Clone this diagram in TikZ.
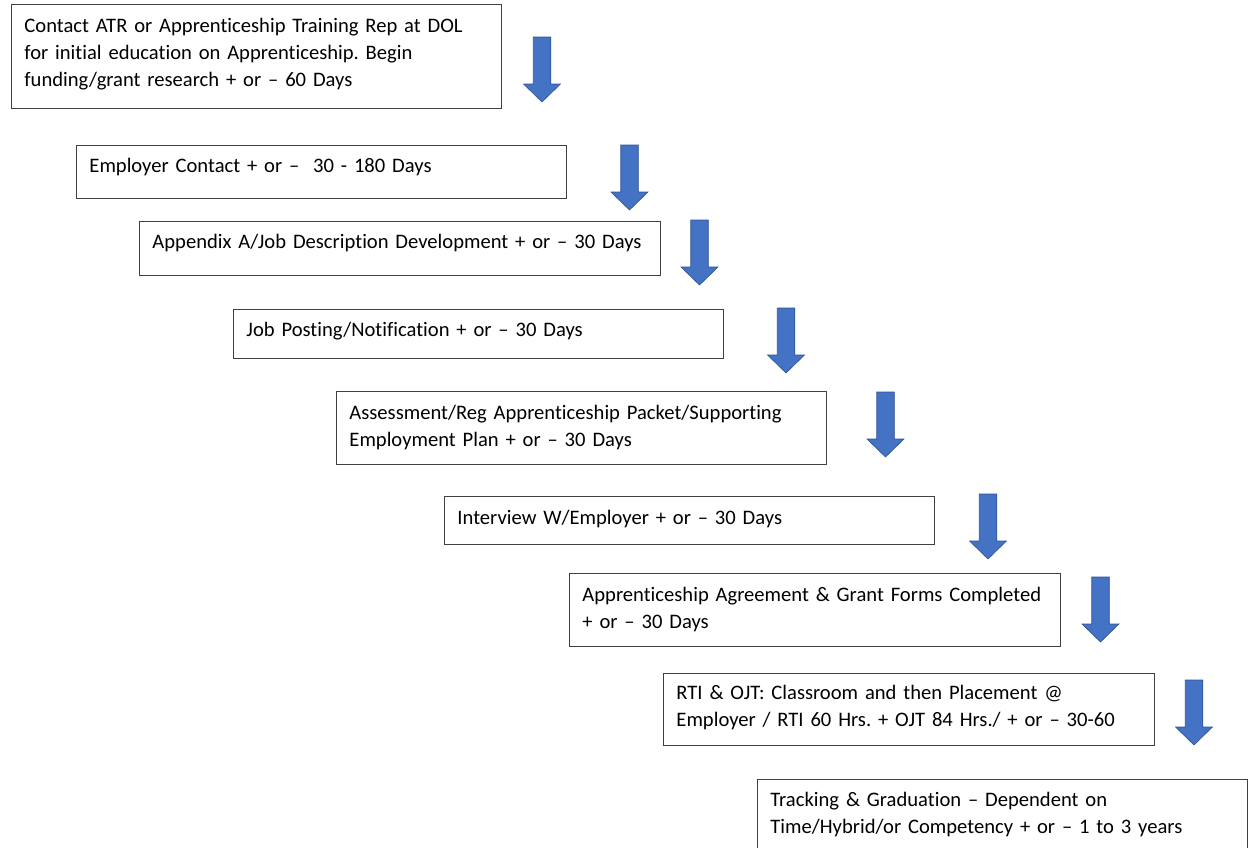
\documentclass[tikz,border=0pt]{standalone}
\usepackage{fontspec}
\setmainfont{Carlito}[Ligatures=NoCommon]

\definecolor{arrowblue}{HTML}{4472C4}
\definecolor{arrowedge}{HTML}{2F528F}
\definecolor{boxline}{HTML}{404040}

\newcommand{\stepfont}{\fontsize{20.6}{27}\selectfont\frenchspacing\hyphenpenalty=10000\relax}

\tikzset{
    stepbox/.style 2 args={draw=boxline, line width=0.9pt, anchor=north west,
        align=left, inner xsep=13pt, inner ysep=0pt,
        text width=#1, text height=28pt, text depth=#2, font=\stepfont},
    downarrow/.pic={
        \draw[fill=arrowblue, draw=arrowedge, line width=0.6pt]
            (-8.75,0) -- (8.75,0) -- (8.75,47) -- (18.5,47) -- (0,65)
            -- (-18.5,47) -- (-8.75,47) -- cycle;
    }
}

\begin{document}
\begin{tikzpicture}[x=1pt, y=-1pt]
        \useasboundingbox (0,0) rectangle (1248,847);

        \node[stepbox={464pt}{76pt}] (contact) at (11,4) {Contact ATR or Apprenticeship Training Rep at DOL\\for initial education on Apprenticeship. Begin\\funding/grant research + or – 60 Days};
        \node[stepbox={464pt}{26pt}, text height=27pt] (employer) at (76,145) {Employer Contact + or –\ \ 30 - 180 Days};
        \node[stepbox={495pt}{27pt}, text height=27pt] (appendix) at (139,221) {Appendix A/Job Description Development + or – 30 Days};
        \node[stepbox={464pt}{22pt}, text height=27pt] (posting) at (233,309) {Job Posting/Notification + or – 30 Days};
        \node[stepbox={464pt}{45pt}] (assessment) at (336,391) {Assessment/Reg Apprenticeship Packet/Supporting\\Employment Plan + or – 30 Days};
        \node[stepbox={464pt}{20pt}] (interview) at (444,496) {Interview W/Employer + or – 30 Days};
        \node[stepbox={465pt}{45pt}] (agreement) at (569,573) {Apprenticeship Agreement \& Grant Forms Completed\\+ or – 30 Days};
        \node[stepbox={465pt}{46pt}, text height=26pt] (rti) at (663,673) {RTI \& OJT: Classroom and then Placement @\\Employer / RTI 60 Hrs. + OJT 84 Hrs./ + or – 30-60};
        \node[stepbox={464pt}{48pt}, text height=27pt] (tracking) at (757,779) {Tracking \& Graduation – Dependent on\\Time/Hybrid/or Competency + or – 1 to 3 years};

        \pic at (542,37) {downarrow};
        \pic at (629.5,145) {downarrow};
        \pic at (699.5,220) {downarrow};
        \pic at (786,308) {downarrow};
        \pic at (885.5,392) {downarrow};
        \pic at (988,494) {downarrow};
        \pic at (1100.5,577) {downarrow};
        \pic at (1194,680) {downarrow};
    \end{tikzpicture}
\end{document}
